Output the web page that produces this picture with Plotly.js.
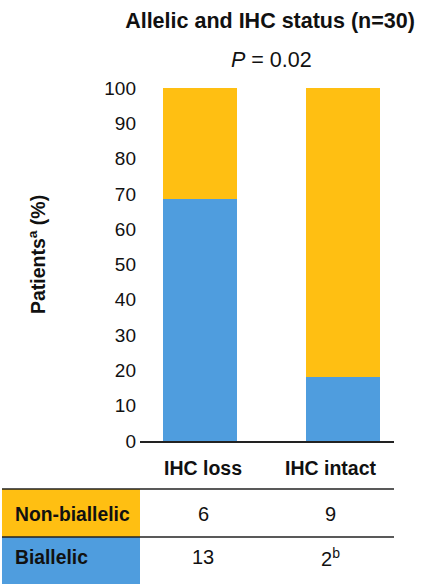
<!DOCTYPE html>
<html>
<head>
<meta charset="utf-8">
<script src="https://cdn.plot.ly/plotly-3.0.1.min.js"></script>
<style>html,body{margin:0;padding:0;background:#fff;}#chart{width:423px;height:584px;}</style>
</head>
<body>
<div id="chart"></div>
<script>
var categories = ['IHC loss', 'IHC intact'];
var rowLabels = ['Non-biallelic', 'Biallelic'];
var nonBiallelicCounts = [6, 9];
var biallelicCounts = [13, 2];
var biallelicText = ['13', '2<sup>b</sup>'];
var nonBiallelicText = ['6', '9'];
var yTicks = [0, 10, 20, 30, 40, 50, 60, 70, 80, 90, 100];

var ORANGE = '#FFBF12';
var BLUE = '#4F9DDE';
var FONT = '"Liberation Sans", Arial, sans-serif';

var totals = categories.map(function (c, i) { return nonBiallelicCounts[i] + biallelicCounts[i]; });
var biPct = biallelicCounts.map(function (v, i) { return v / totals[i] * 100; });
var nonPct = nonBiallelicCounts.map(function (v, i) { return v / totals[i] * 100; });

var traces = [
  { type: 'bar', x: categories, y: biPct, name: 'Biallelic', marker: { color: BLUE }, width: 0.517, hoverinfo: 'none' },
  { type: 'bar', x: categories, y: nonPct, name: 'Non-biallelic', marker: { color: ORANGE }, width: 0.517, hoverinfo: 'none' }
];

function py(px) { return (441 - px) / 353; }
function pxX(px) { return (px - 140) / 254; }
var colShift = [3, -12];

var annotations = [];
annotations.push({ xref: 'paper', yref: 'paper', x: pxX(271), y: py(60), text: '<i>P</i> = 0.02', showarrow: false, xanchor: 'center', yanchor: 'middle', font: { family: FONT, size: 21.5, color: '#111' } });
annotations.push({ xref: 'paper', yref: 'paper', x: pxX(37), y: py(255), text: '<b>Patients<sup>a</sup> (%)</b>', textangle: -90, showarrow: false, xanchor: 'center', yanchor: 'middle', font: { family: FONT, size: 19.5, color: '#111' } });
categories.forEach(function (c, i) {
  annotations.push({ xref: 'x', yref: 'paper', x: c, xshift: colShift[i], y: py(468), text: '<b>' + c + '</b>', showarrow: false, xanchor: 'center', yanchor: 'middle', font: { family: FONT, size: 19.5, color: '#111' } });
  annotations.push({ xref: 'x', yref: 'paper', x: c, xshift: colShift[i], y: py(514), text: nonBiallelicText[i], showarrow: false, xanchor: 'center', yanchor: 'middle', font: { family: FONT, size: 20, color: '#111' } });
  annotations.push({ xref: 'x', yref: 'paper', x: c, xshift: colShift[i], y: py(557), text: biallelicText[i], showarrow: false, xanchor: 'center', yanchor: 'middle', font: { family: FONT, size: 20, color: '#111' } });
});
annotations.push({ xref: 'paper', yref: 'paper', x: pxX(13), y: py(514), text: '<b>' + rowLabels[0] + '</b>', showarrow: false, xanchor: 'left', yanchor: 'middle', font: { family: FONT, size: 19.3, color: '#111' } });
annotations.push({ xref: 'paper', yref: 'paper', x: pxX(13), y: py(557), text: '<b>' + rowLabels[1] + '</b>', showarrow: false, xanchor: 'left', yanchor: 'middle', font: { family: FONT, size: 19.3, color: '#111' } });

var shapes = [
  { type: 'rect', xref: 'paper', yref: 'paper', x0: pxX(2), x1: 0, y0: py(537), y1: py(489), fillcolor: ORANGE, line: { width: 0 }, layer: 'below' },
  { type: 'rect', xref: 'paper', yref: 'paper', x0: pxX(2), x1: 0, y0: py(590), y1: py(537), fillcolor: BLUE, line: { width: 0 }, layer: 'below' },
  { type: 'line', xref: 'paper', yref: 'paper', x0: pxX(2), x1: 1, y0: py(489), y1: py(489), line: { color: '#222', width: 1.5 } },
  { type: 'line', xref: 'paper', yref: 'paper', x0: pxX(2), x1: 1, y0: py(537), y1: py(537), line: { color: '#222', width: 1.5 } }
];

var layout = {
  width: 423, height: 584,
  margin: { l: 140, r: 29, t: 88, b: 143, pad: 0 },
  paper_bgcolor: '#fff', plot_bgcolor: '#fff',
  showlegend: false,
  barmode: 'stack',
  title: { text: '<b>Allelic and IHC status (n=30)</b>', xref: 'container', yref: 'container', x: 270 / 423, y: 1 - 20 / 584, xanchor: 'center', yanchor: 'middle', font: { family: FONT, size: 21.5, color: '#111' } },
  xaxis: { type: 'category', range: [-0.42, 1.357], showticklabels: false, ticks: '', showline: true, linecolor: '#222', linewidth: 1.5, showgrid: false, zeroline: false, fixedrange: true },
  yaxis: { range: [0, 100], tickvals: yTicks, ticktext: yTicks.map(String), ticks: '', showline: false, showgrid: false, zeroline: false, ticklabelstandoff: 3, tickfont: { family: FONT, size: 19, color: '#111' }, fixedrange: true },
  annotations: annotations,
  shapes: shapes,
  font: { family: FONT }
};

Plotly.newPlot('chart', traces, layout, { displayModeBar: false, staticPlot: true });
</script>
</body>
</html>
